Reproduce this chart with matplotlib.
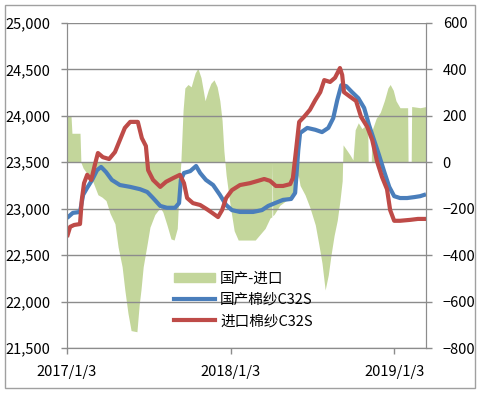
import pandas as pd
import matplotlib.pyplot as plt
from matplotlib.patches import Patch, Rectangle
from matplotlib.lines import Line2D

plt.rcParams['font.family'] = ['Noto Sans CJK SC', 'DejaVu Sans']

# 国产棉纱C32S (left axis)
dom_dates = ['2017-01-03', '2017-01-16', '2017-02-01', '2017-02-08', '2017-02-17', '2017-02-28',
             '2017-03-11', '2017-03-20', '2017-03-31', '2017-04-13', '2017-05-01', '2017-05-24',
             '2017-06-15', '2017-07-01', '2017-07-14', '2017-07-30', '2017-08-14', '2017-09-01',
             '2017-09-10', '2017-09-14', '2017-09-21', '2017-10-05', '2017-10-18', '2017-10-27',
             '2017-11-09', '2017-11-25', '2017-12-10', '2017-12-24', '2018-01-06', '2018-01-24',
             '2018-02-22', '2018-03-14', '2018-03-28', '2018-04-12', '2018-04-30', '2018-05-18',
             '2018-05-27', '2018-06-03', '2018-06-07', '2018-06-23', '2018-07-11', '2018-07-26',
             '2018-08-09', '2018-08-20', '2018-08-29', '2018-09-07', '2018-09-18', '2018-10-01',
             '2018-10-15', '2018-10-28', '2018-11-08', '2018-11-19', '2018-11-30', '2018-12-12',
             '2018-12-23', '2019-01-03', '2019-01-16', '2019-02-01', '2019-02-17', '2019-03-02',
             '2019-03-15']
dom_vals = [22900, 22955, 22965, 23150, 23225, 23310,
            23415, 23450, 23395, 23310, 23255, 23235,
            23210, 23180, 23115, 23030, 23010, 23010,
            23060, 23310, 23385, 23405, 23460, 23385,
            23310, 23255, 23150, 23040, 22985, 22965,
            22965, 22985, 23030, 23060, 23095, 23105,
            23170, 23630, 23815, 23870, 23850, 23825,
            23870, 23975, 24170, 24330, 24320, 24255,
            24190, 24085, 23900, 23740, 23580, 23395,
            23235, 23135, 23115, 23115, 23125, 23135,
            23155]

# 进口棉纱C32S (left axis)
imp_dates = ['2017-01-03', '2017-01-10', '2017-01-19', '2017-02-01', '2017-02-05', '2017-02-10',
             '2017-02-17', '2017-02-26', '2017-03-06', '2017-03-13', '2017-03-24', '2017-04-07',
             '2017-04-20', '2017-05-01', '2017-05-12', '2017-05-24', '2017-06-10', '2017-06-19',
             '2017-06-28', '2017-07-03', '2017-07-14', '2017-07-30', '2017-08-12', '2017-08-28',
             '2017-09-12', '2017-09-21', '2017-09-28', '2017-10-11', '2017-10-27', '2017-11-11',
             '2017-11-23', '2017-12-06', '2017-12-15', '2017-12-24', '2018-01-06', '2018-01-24',
             '2018-02-15', '2018-03-05', '2018-03-19', '2018-04-01', '2018-04-14', '2018-04-30',
             '2018-05-16', '2018-05-22', '2018-05-29', '2018-06-05', '2018-06-16', '2018-06-29',
             '2018-07-11', '2018-07-22', '2018-07-31', '2018-08-13', '2018-08-24', '2018-09-04',
             '2018-09-09', '2018-09-13', '2018-09-27', '2018-10-10', '2018-10-21', '2018-11-04',
             '2018-11-15', '2018-11-26', '2018-12-07', '2018-12-18', '2018-12-25', '2019-01-03',
             '2019-01-16', '2019-02-08', '2019-02-25', '2019-03-15']
imp_vals = [22695, 22805, 22825, 22835, 23095, 23275,
            23365, 23310, 23470, 23600, 23555, 23535,
            23610, 23740, 23870, 23935, 23935, 23760,
            23675, 23415, 23310, 23235, 23290, 23330,
            23365, 23275, 23115, 23060, 23040, 22995,
            22955, 22910, 22985, 23115, 23200, 23255,
            23275, 23300, 23320, 23300, 23245, 23245,
            23265, 23330, 23630, 23935, 23990, 24065,
            24170, 24255, 24385, 24365, 24410, 24515,
            24440, 24255, 24205, 24160, 23990, 23880,
            23740, 23505, 23340, 23210, 22985, 22870,
            22870, 22880, 22890, 22890]

# 国产-进口 (right axis)
spread_dates = ['2017-01-03', '2017-01-12', '2017-01-14', '2017-02-01', '2017-02-03', '2017-02-08',
                '2017-02-19', '2017-03-02', '2017-03-13', '2017-03-22', '2017-03-31', '2017-04-09',
                '2017-04-20', '2017-04-27', '2017-05-06', '2017-05-12', '2017-05-19', '2017-05-26',
                '2017-06-08', '2017-06-13', '2017-06-17', '2017-06-22', '2017-07-01', '2017-07-07',
                '2017-07-18', '2017-07-30', '2017-08-05', '2017-08-14', '2017-08-23', '2017-08-30',
                '2017-09-06', '2017-09-10', '2017-09-14', '2017-09-19', '2017-09-23', '2017-09-30',
                '2017-10-07', '2017-10-16', '2017-10-22', '2017-10-29', '2017-11-03', '2017-11-07',
                '2017-11-14', '2017-11-20', '2017-11-27', '2017-12-04', '2017-12-10', '2017-12-15',
                '2017-12-19', '2017-12-24', '2018-01-02', '2018-01-11', '2018-01-20', '2018-02-27',
                '2018-03-10', '2018-03-21', '2018-04-01', '2018-04-05', '2018-04-06', '2018-04-07',
                '2018-04-10', '2018-04-23', '2018-05-07', '2018-05-20', '2018-05-29', '2018-06-03',
                '2018-06-07', '2018-06-18', '2018-06-29', '2018-07-11', '2018-07-19', '2018-07-26',
                '2018-08-02', '2018-08-09', '2018-08-15', '2018-08-22', '2018-08-29', '2018-09-04',
                '2018-09-09', '2018-09-11', '2018-09-20', '2018-09-27', '2018-10-03', '2018-10-08',
                '2018-10-15', '2018-10-23', '2018-11-01', '2018-11-05', '2018-11-06', '2018-11-13',
                '2018-11-14', '2018-11-15', '2018-11-24', '2018-12-03', '2018-12-12', '2018-12-20',
                '2018-12-25', '2019-01-01', '2019-01-07', '2019-01-16', '2019-02-01', '2019-02-02',
                '2019-02-03', '2019-02-10', '2019-02-11', '2019-02-12', '2019-03-02', '2019-03-15']
spread_vals = [198, 198, 125, 125, 0, -25,
               -55, -85, -140, -150, -165, -220,
               -265, -365, -450, -550, -650, -725,
               -730, -615, -550, -450, -350, -280,
               -225, -195, -215, -270, -330, -335,
               -285, -120, 0, 225, 320, 335,
               325, 385, 405, 365, 310, 265,
               310, 340, 355, 325, 265, 180,
               50, -55, -185, -295, -335, -335,
               -310, -285, -240, -235, 0, -230,
               -225, -185, -165, -140, -100, -55,
               -100, -140, -195, -270, -355, -435,
               -550, -485, -400, -315, -250, -165,
               -80, 75, 50, 30, 10, 140,
               170, 145, 160, 160, 0, 0,
               140, 140, 190, 215, 265, 320,
               335, 310, 265, 235, 235, 235,
               0, 0, 240, 240, 235, 240]

dom_x = pd.to_datetime(dom_dates)
imp_x = pd.to_datetime(imp_dates)
spr_x = pd.to_datetime(spread_dates)

green = '#C3D69B'
blue = '#4A7EBB'
red = '#BE4B48'
grid_c = '#8C8C8C'

fig = plt.figure(figsize=(4.8, 3.93), dpi=100)
ax1 = fig.add_axes([0.1396, 0.1145, 0.7479, 0.827])
ax2 = ax1.twinx()

ax2.fill_between(spr_x, spread_vals, 0, color=green, linewidth=0)
ax1.plot(dom_x, dom_vals, color=blue, linewidth=3.0, solid_capstyle='butt')
ax1.plot(imp_x, imp_vals, color=red, linewidth=3.0, solid_capstyle='butt')

# lines and gridlines above the area
ax1.set_zorder(ax2.get_zorder() + 1)
ax1.patch.set_visible(False)

ax1.set_ylim(21500, 25000)
ax1.set_yticks(range(21500, 25001, 500))
ax1.set_yticklabels([f'{v:,}' for v in range(21500, 25001, 500)])
ax2.set_ylim(-800, 600)
ax2.set_yticks(range(-800, 601, 200))

ax1.set_xlim(pd.Timestamp('2017-01-03'), pd.Timestamp('2019-03-15'))
xt = pd.to_datetime(['2017-01-03', '2018-01-03', '2019-01-03'])
ax1.set_xticks(xt)
ax1.set_xticklabels(['2017/1/3', '2018/1/3', '2019/1/3'])

ax1.grid(axis='y', color=grid_c, linewidth=1.0)
ax1.grid(axis='x', visible=False)
for ax in (ax1, ax2):
    for s in ax.spines.values():
        s.set_color(grid_c)
    ax.spines['top'].set_visible(False)
    ax.tick_params(colors=grid_c, labelcolor='black', labelsize=10.5, length=4, width=1.0)
ax1.tick_params(axis='y', pad=8)
ax2.tick_params(axis='y', pad=8)
ax1.tick_params(axis='x', pad=8)

handles = [Patch(color=green), Line2D([], [], color=blue, linewidth=3.0),
           Line2D([], [], color=red, linewidth=3.0)]
labels = ['国产-进口', '国产棉纱C32S', '进口棉纱C32S']
ax1.legend(handles, labels, loc='upper left', bbox_to_anchor=(0.262, 0.275), frameon=False,
           fontsize=10.5, handlelength=2.8, handleheight=0.6, handletextpad=0.35, labelspacing=0.5)

fig.patches.append(Rectangle((0.01, 0.012), 0.98, 0.976, transform=fig.transFigure,
                             fill=False, edgecolor='#A0A0A0', linewidth=1.0))

fig.savefig('out.png', dpi=100)
